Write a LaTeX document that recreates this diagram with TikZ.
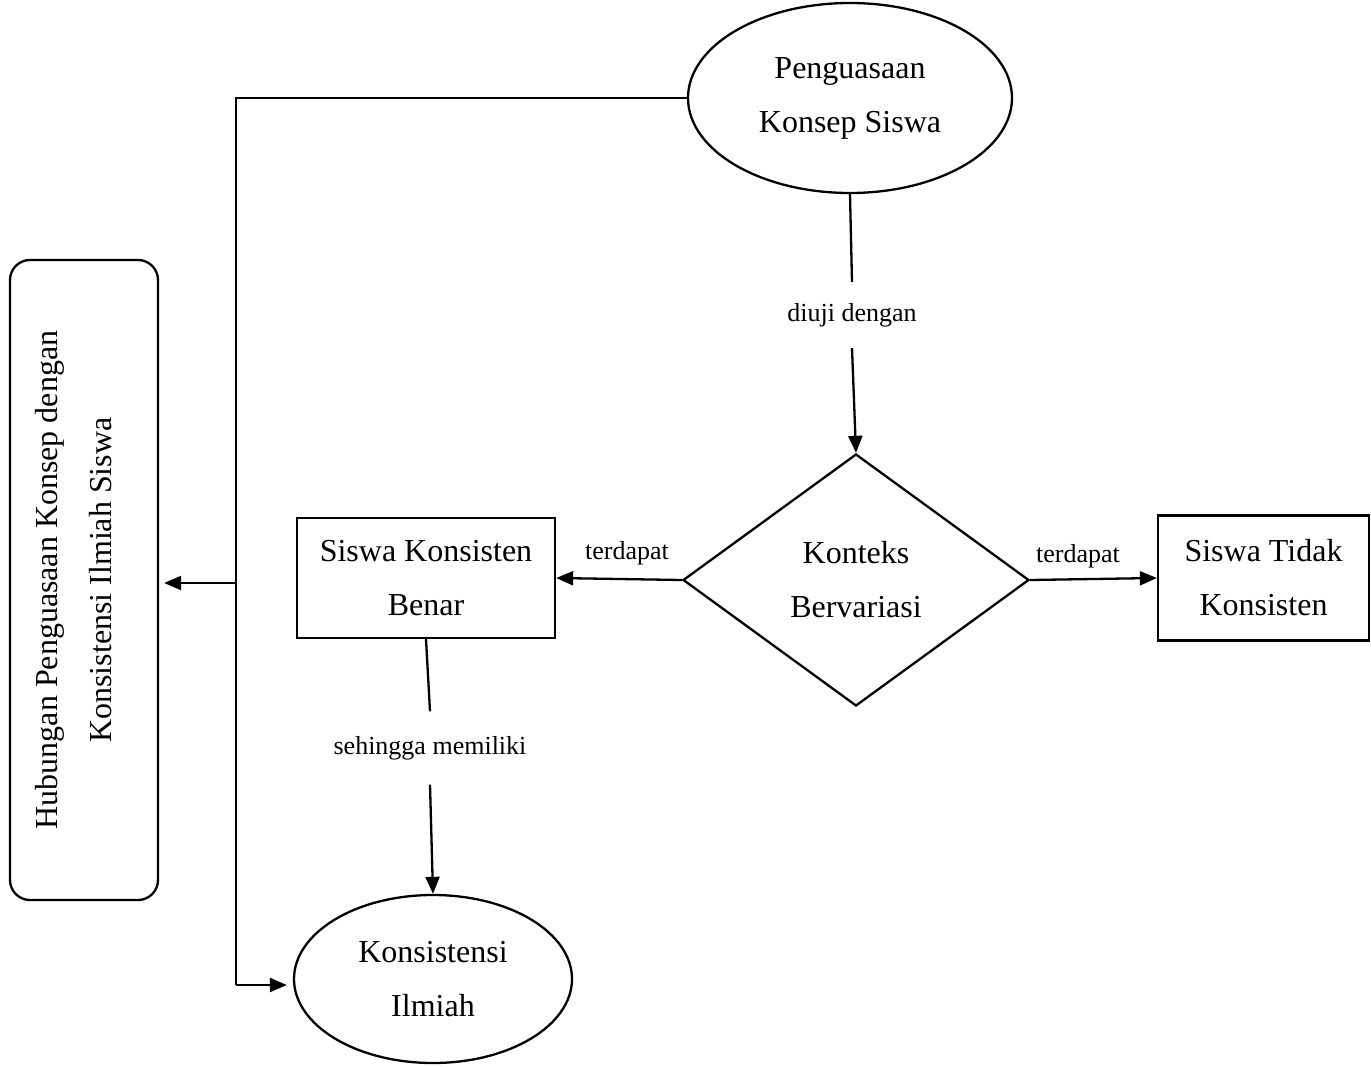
\documentclass[tikz,border=0pt]{standalone}
\usepackage{fontspec}
\setmainfont{Liberation Serif}
\usetikzlibrary{shapes.geometric,arrows.meta}
\begin{document}
\begin{tikzpicture}[x=1pt,y=-1pt,
  big/.style={font=\fontsize{32pt}{54pt}\selectfont,align=center,inner sep=0pt},
  small/.style={font=\fontsize{26pt}{30pt}\selectfont,inner sep=0pt},
  oval/.style={big,draw,line width=2.3pt,ellipse},
  boxx/.style={big,draw,line width=2.3pt,rectangle},
  decide/.style={big,draw,line width=2.3pt,diamond,aspect=1.37},
  conn/.style={line width=2.3pt},
  arr/.style={line width=2.3pt,-{Triangle[length=17pt,width=14pt]}}
]
\useasboundingbox (0,0) rectangle (1371,1067);

\node[oval,minimum width=324pt,minimum height=190pt] (pk) at (850,98) {Penguasaan\\Konsep Siswa};
\node[decide,minimum width=346pt,minimum height=252pt] (kb) at (856,580) {Konteks\\Bervariasi};
\node[boxx,minimum width=258pt,minimum height=120pt] (skb) at (426,578) {Siswa Konsisten\\Benar};
\node[boxx,minimum width=211pt,minimum height=125pt] (stk) at (1263.5,578) {Siswa Tidak\\Konsisten};
\node[oval,minimum width=278pt,minimum height=168pt] (ki) at (433,979) {Konsistensi\\Ilmiah};
\node[big,draw,line width=2.3pt,rounded corners=20pt,rotate=90,minimum width=640pt,minimum height=148pt] (hub) at (84,580)
  {Hubungan Penguasaan Konsep dengan\\Konsistensi Ilmiah Siswa\rule[-21pt]{0pt}{1pt}};

\node[small,minimum height=66pt] (l1) at (852,315) {diuji dengan};
\node[small,minimum height=73pt] (l2) at (430,748) {sehingga memiliki};
\node[small] (l3) at (627,553) {terdapat};
\node[small] (l4) at (1078,556) {terdapat};

\coordinate (c1) at (236,98);
\coordinate (c2) at (236,583);
\coordinate (c3) at (236,985);

\draw[conn] (pk.south) -- (l1.north);
\draw[arr] (l1.south) -- (kb.north);
\draw[arr] (kb.west) -- (skb.east);
\draw[arr] (kb.east) -- (stk.west);
\draw[conn] (skb.south) -- (l2.north);
\draw[arr] (l2.south) -- (ki.north);
\draw[conn] (pk.west) -- (c1) -- (c3);
\draw[arr] (c3) -- ([xshift=-6pt]ki.west |- c3);
\draw[arr] (c2) -- ([xshift=5pt]c2 -| hub.south);
\end{tikzpicture}
\end{document}
